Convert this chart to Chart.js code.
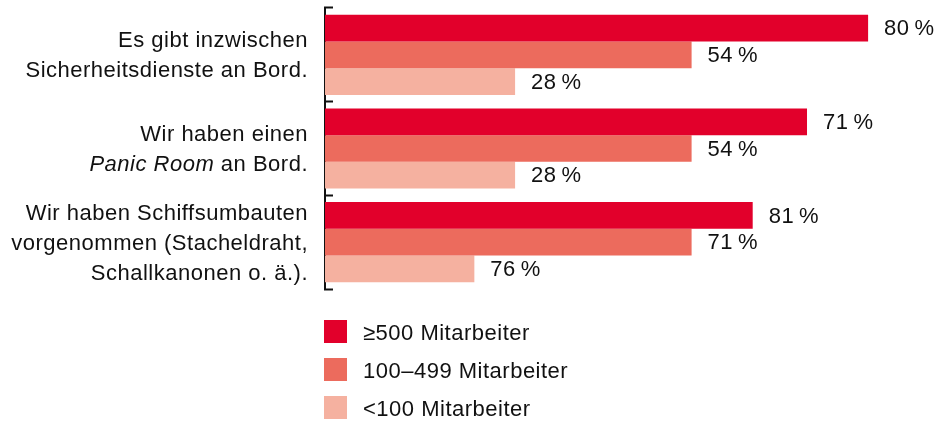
<!DOCTYPE html>
<html>
<head>
<meta charset="utf-8">
<script src="https://cdn.jsdelivr.net/npm/chart.js@4.4.1/dist/chart.umd.min.js"></script>
<style>
  html, body { margin: 0; padding: 0; background: #fff; }
  #wrap { width: 936px; height: 421px; }
</style>
</head>
<body>
<div id="wrap"><canvas id="chart" width="936" height="421"></canvas></div>
<script>
// *...* marks italic text inside a label line
const categories = [
    ['Es gibt inzwischen', 'Sicherheitsdienste an Bord.'],
    ['Wir haben einen', '*Panic Room* an Bord.'],
    ['Wir haben Schiffsumbauten', 'vorgenommen (Stacheldraht,', 'Schallkanonen o. ä.).']
];
const seriesNames = ['≥500 Mitarbeiter', '100–499 Mitarbeiter', '<100 Mitarbeiter'];
const colors = ['#E2002B', '#EC6B5D', '#F5B1A0'];

// bar lengths as drawn in the picture (last group is not drawn to its printed values)
const big = [80, 71, 63];
const mid = [54, 54, 54];
const small = [28, 28, 22];

// printed value labels
const bigLabels = ['80\u2009%', '71\u2009%', '81\u2009%'];
const midLabels = ['54\u2009%', '54\u2009%', '71\u2009%'];
const smallLabels = ['28\u2009%', '28\u2009%', '76\u2009%'];

const FONT = '"Liberation Sans", Arial, sans-serif';
const TEXT = '#111';

function setFont(ctx, size, italic) {
    ctx.font = (italic ? 'italic ' : '') + size + 'px ' + FONT;
    if ('letterSpacing' in ctx) ctx.letterSpacing = '0.5px';
}

const valueLabels = {
    id: 'valueLabels',
    afterDatasetsDraw(chart) {
        const ctx = chart.ctx;
        ctx.save();
        setFont(ctx, 22, false);
        ctx.fillStyle = TEXT;
        ctx.textBaseline = 'middle';
        ctx.textAlign = 'left';
        chart.data.datasets.forEach((ds, i) => {
            chart.getDatasetMeta(i).data.forEach((bar, j) => {
                ctx.fillText(ds.valueLabels[j], bar.x + 16, bar.y + 1);
            });
        });
        ctx.restore();
    }
};

const categoryLabels = {
    id: 'categoryLabels',
    afterDraw(chart) {
        const ctx = chart.ctx;
        const y = chart.scales.y;
        const right = chart.chartArea.left - 17;
        ctx.save();
        ctx.fillStyle = TEXT;
        ctx.textBaseline = 'middle';
        ctx.textAlign = 'left';
        chart.data.labels.forEach((lines, i) => {
            const cy = y.getPixelForValue(i) + 1.5;
            lines.forEach((line, j) => {
                const ly = cy + (j - (lines.length - 1) / 2) * 30;
                const parts = line.split('*').map((t, k) => ({ t: t, it: k % 2 === 1 })).filter(p => p.t);
                let w = 0;
                parts.forEach(p => { setFont(ctx, 22, p.it); p.w = ctx.measureText(p.t).width; w += p.w; });
                let x = right - w;
                parts.forEach(p => { setFont(ctx, 22, p.it); ctx.fillText(p.t, x, ly); x += p.w; });
            });
        });
        ctx.restore();
    }
};

const legendBlock = {
    id: 'legendBlock',
    afterDraw(chart) {
        const ctx = chart.ctx;
        const a = chart.chartArea;
        ctx.save();
        ctx.textBaseline = 'middle';
        ctx.textAlign = 'left';
        chart.data.datasets.forEach((ds, i) => {
            const top = a.bottom + 31 + i * 38;
            ctx.fillStyle = ds.backgroundColor;
            ctx.fillRect(a.left - 1, top, 23, 23);
            ctx.fillStyle = TEXT;
            setFont(ctx, 22, false);
            ctx.fillText(ds.label, a.left + 38, top + 13.5);
        });
        ctx.restore();
    }
};

new Chart(document.getElementById('chart'), {
    type: 'bar',
    data: {
        labels: categories,
        datasets: [
            { label: seriesNames[0], data: big, backgroundColor: colors[0], valueLabels: bigLabels },
            { label: seriesNames[1], data: mid, backgroundColor: colors[1], valueLabels: midLabels },
            { label: seriesNames[2], data: small, backgroundColor: colors[2], valueLabels: smallLabels }
        ]
    },
    options: {
        indexAxis: 'y',
        responsive: false,
        animation: false,
        layout: { padding: { left: 325, top: 8, bottom: 132, right: 0 } },
        datasets: { bar: { categoryPercentage: 0.855, barPercentage: 1, borderWidth: 0 } },
        scales: {
            x: { display: false, min: 0, max: 90 },
            y: {
                ticks: { display: false },
                grid: { drawOnChartArea: false, drawTicks: true, tickLength: -8, tickWidth: 2, tickColor: TEXT },
                border: { display: true, width: 2, color: TEXT },
                afterFit(scale) { scale.width = 0; }
            }
        },
        plugins: { legend: { display: false }, tooltip: { enabled: false } }
    },
    plugins: [valueLabels, categoryLabels, legendBlock]
});
</script>
</body>
</html>
